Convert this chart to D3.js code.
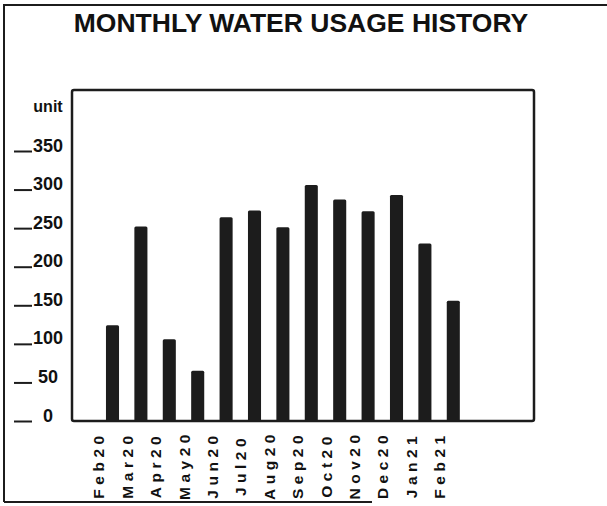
<!DOCTYPE html>
<html>
<head>
<meta charset="utf-8">
<script src="https://cdn.jsdelivr.net/npm/d3@7"></script>
<style>
  html, body { margin: 0; padding: 0; background: #fff; }
  svg { display: block; font-family: "Liberation Sans", Arial, Helvetica, sans-serif; }
</style>
</head>
<body>
<svg id="chart"></svg>
<script>
// monthly water usage, bar chart
const months = ["Feb20", "Mar20", "Apr20", "May20", "Jun20", "Jul20", "Aug20",
                "Sep20", "Oct20", "Nov20", "Dec20", "Jan21", "Feb21"];
const usage = [124, 252, 106, 65, 264, 273, 251, 306, 287, 272, 293, 230, 156];
const yTicks = [0, 50, 100, 150, 200, 250, 300, 350];
const titleText = "MONTHLY WATER USAGE HISTORY";
const unitText = "unit";

const width = 607;
const height = 506;
const ink = "#1c1c1c";

const svg = d3.select("#chart")
    .attr("width", width)
    .attr("height", height);

// 外枠 (左・上・下の一部だけ)
svg.append("path")
    .attr("d", "M4,502 L4,5 L607,5 M4,502 L372,502")
    .attr("fill", "none")
    .attr("stroke", ink)
    .attr("stroke-width", 2);

// タイトル
svg.append("text")
    .attr("x", 301)
    .attr("y", 32)
    .attr("text-anchor", "middle")
    .attr("font-size", 26.5)
    .attr("font-weight", "bold")
    .attr("fill", "#111")
    .text(titleText);

const plot = { left: 72, right: 534, top: 90, bottom: 421 };

const x = d3.scaleBand()
    .domain(months)
    .range([98.3, 467.5])
    .paddingInner(0.54)
    .paddingOuter(0.27);

const y = d3.scaleLinear()
    .domain([0, 350])
    .range([421, 151]);

// プロット枠
svg.append("rect")
    .attr("x", plot.left)
    .attr("y", plot.top)
    .attr("width", plot.right - plot.left)
    .attr("height", plot.bottom - plot.top)
    .attr("rx", 2)
    .attr("fill", "none")
    .attr("stroke", ink)
    .attr("stroke-width", 2.5);

// 棒
svg.append("g")
    .selectAll("rect")
    .data(usage)
    .join("rect")
    .attr("x", (d, i) => x(months[i]))
    .attr("y", d => y(d))
    .attr("width", x.bandwidth())
    .attr("height", d => y(0) - y(d))
    .attr("rx", 1.5)
    .attr("fill", ink);

// Y軸: ラベル中央寄せ、左側にダッシュ
const yAxis = svg.append("g")
    .attr("transform", "translate(48,0)")
    .call(d3.axisLeft(y).tickValues(yTicks).tickSize(0).tickFormat(d3.format("d")));
yAxis.select(".domain").remove();
yAxis.selectAll(".tick text")
    .attr("x", 0)
    .attr("dy", 0)
    .attr("text-anchor", "middle")
    .attr("font-size", 18)
    .attr("font-weight", "bold")
    .attr("font-family", "Liberation Sans, Arial, sans-serif")
    .attr("fill", "#111");
yAxis.selectAll(".tick")
    .append("line")
    .attr("x1", -34)
    .attr("x2", -16)
    .attr("y1", 0)
    .attr("y2", 0)
    .attr("stroke", ink)
    .attr("stroke-width", 2);

svg.append("text")
    .attr("x", 48)
    .attr("y", 112)
    .attr("text-anchor", "middle")
    .attr("font-size", 16)
    .attr("font-weight", "bold")
    .attr("fill", "#111")
    .text(unitText);

// X軸ラベル (縦書き、棒の左側にずらす)
const xAxis = svg.append("g")
    .attr("transform", `translate(${-x.step() / 2 + 0.6},465)`)
    .call(d3.axisBottom(x).tickSize(0));
xAxis.select(".domain").remove();
xAxis.selectAll(".tick text")
    .attr("transform", "rotate(-90)")
    .attr("x", 0)
    .attr("y", 0)
    .attr("dy", "0.36em")
    .attr("text-anchor", "middle")
    .attr("font-size", 15.5)
    .attr("font-weight", "bold")
    .attr("font-family", "Liberation Sans, Arial, sans-serif")
    .attr("letter-spacing", 4.5)
    .attr("fill", "#111");
</script>
</body>
</html>
